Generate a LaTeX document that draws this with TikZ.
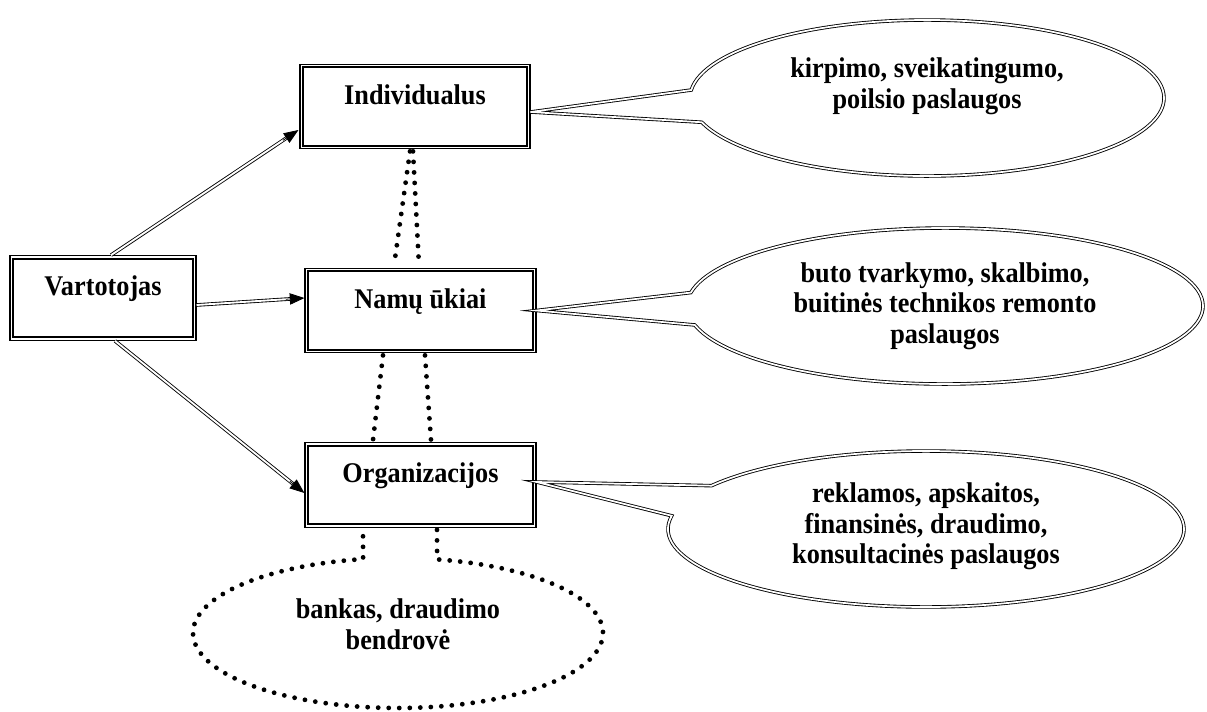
\documentclass[tikz,border=0pt]{standalone}
\usepackage{fontspec}
\setmainfont{Liberation Serif}[FakeStretch=0.92]
\usetikzlibrary{calc,arrows.meta,shapes.callouts}
\begin{document}
\begin{tikzpicture}[x=0.75pt,y=-0.75pt,
  font=\bfseries\fontsize{21.4}{22.9}\selectfont,
  box/.style={draw, line width=0.8pt, inner sep=0pt, text height=16pt, text depth=19.5pt, minimum height=63.5pt},
  innerframe/.style={line width=1.6pt},
  dline/.style={draw, double, double distance=1.4pt, line width=0.65pt, shorten >=9pt},
  tipline/.style={line width=0.6pt, -{Triangle[length=11pt,width=8.5pt]}},
  dots/.style={line width=3.6pt, line cap=round, dash pattern=on 0pt off 7.9pt},
  bubble/.style={ellipse callout, draw, double, double distance=1.3pt, line width=0.65pt, inner sep=0pt, callout pointer arc=24, minimum height=117pt},
  ]
\useasboundingbox (0,0) rectangle (1207,711);

% boxes
\node[box, minimum width=139.5pt] (v) at (103,298) {Vartotojas};
\node[box, minimum width=172.5pt] (i) at (415,106.5) {Individualus};
\node[box, minimum width=173.25pt] (n) at (420.5,310.5) {Namų ūkiai};
\node[box, minimum width=173.25pt] (o) at (420.5,485) {Organizacijos};
\foreach \b in {v,i,n,o}
  \draw[innerframe] ([shift={(2.8pt,2.8pt)}]\b.south west) rectangle ([shift={(-2.8pt,-2.8pt)}]\b.north east);

% arrows
\coordinate (a1s) at ($(v.north)+(8,0)$);
\coordinate (a1e) at ($(i.west)+(-1,23.5)$);
\coordinate (a2s) at ($(v.east)+(0,7)$);
\coordinate (a2e) at ($(n.west)+(0,-12.5)$);
\coordinate (a3s) at ($(v.south)+(12,0)$);
\coordinate (a3e) at ($(o.west)+(0,8)$);
\foreach \s/\e in {a1s/a1e,a2s/a2e,a3s/a3e}{
  \draw[dline] (\s) -- (\e);
  \draw[tipline] ($(\e)!14pt!(\s)$) -- (\e);
}

% dotted links between boxes
\draw[dots] ($(i.south)+(-5,2)$) -- ($(n.north)+(-26.5,-2)$);
\draw[dots] ($(i.south)+(-2,2)$) -- ($(n.north)+(-1.5,-2)$);
\draw[dots] ($(n.south)+(-37.5,2)$) -- ($(o.north)+(-47.5,-2)$);
\draw[dots] ($(n.south)+(4.5,2)$) -- ($(o.north)+(10.5,-2)$);

% dotted ellipse
\coordinate (dr) at ({398+205*cos(281)},{633+75*sin(281)});
\draw[dots] ($(o.south)+(16.5,2)$) -- (dr)
  -- plot[domain=281:620.2, samples=140, variable=\t] ({398+205*cos(\t)},{633+75*sin(\t)})
  -- ($(o.south)+(-57.5,2)$);
\node[align=center] (d) at (398,624) {bankas, draudimo\\bendrovė};

% callouts
\node[bubble, minimum width=355.5pt, callout absolute pointer={($(i.east)+(0,5.5)$)},
  label={[align=center,yshift=9pt]center:{kirpimo, sveikatingumo,\\poilsio paslaugos}}] (ct) at (927,98) {};
\node[bubble, minimum width=387pt, callout absolute pointer={(n.east)},
  label={[align=center]center:{buto tvarkymo, skalbimo,\\buitinės technikos remonto\\paslaugos}}] (cm) at (945,306) {};
\node[bubble, minimum width=387pt, callout absolute pointer={($(o.east)+(0,-3)$)},
  label={[align=center,yshift=2pt]center:{reklamos, apskaitos,\\finansinės, draudimo,\\konsultacinės paslaugos}}] (cb) at (926,529) {};
\end{tikzpicture}
\end{document}
